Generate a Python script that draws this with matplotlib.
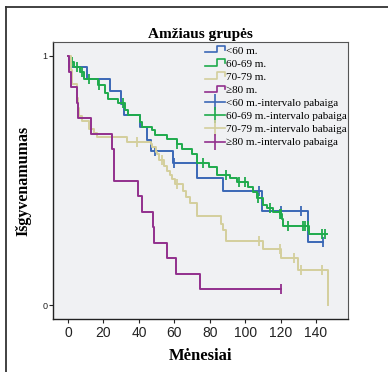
import numpy as np
import matplotlib
matplotlib.use("Agg")
import matplotlib.pyplot as plt
from matplotlib.lines import Line2D
from matplotlib.legend_handler import HandlerBase

# survival steps (time in months, survival after the event)
lt60_t = [0, 0.8, 10.9, 23.7, 29.7, 31.7, 40.8, 44.8, 46.7, 59.5, 72.6, 87.3, 109.5, 135.7]
lt60_s = [1.0, 0.955, 0.906, 0.858, 0.808, 0.761, 0.714, 0.664, 0.618, 0.57, 0.512, 0.456, 0.378, 0.252]
lt60_end = 144.2
lt60_cens = [49.1, 59.8, 107.8, 120.4, 131.6, 144.2]

g6069_t = [0, 1.1, 3.4, 6.8, 9.2, 17.1, 20.9, 22.6, 28.0, 32.2, 33.7, 40.8, 42.0, 47.5, 49.0,
           55.7, 61.3, 64.2, 69.8, 72.6, 79.8, 83.9, 91.5, 95.6, 101.8, 104.6, 106.9, 110.3,
           112.2, 115.6, 119.5, 120.6, 121.6, 136.1]
g6069_s = [1.0, 0.977, 0.955, 0.935, 0.906, 0.883, 0.85, 0.826, 0.81, 0.783, 0.763, 0.735,
           0.716, 0.702, 0.684, 0.666, 0.647, 0.627, 0.607, 0.572, 0.556, 0.523, 0.51, 0.492,
           0.473, 0.455, 0.428, 0.402, 0.388, 0.375, 0.366, 0.344, 0.318, 0.285]
g6069_end = 146.4
g6069_cens = [2.4, 5.3, 7.9, 11.7, 17.7, 31.2, 61.7, 76.4, 89.0, 96.7, 99.9, 107.5, 114.3,
              119.7, 120.2, 124.2, 132.9, 133.8, 135.3, 143.2, 145.3]

g7079_t = [0, 1.5, 2.0, 5.0, 5.6, 6.0, 8.1, 11.9, 14.7, 16.6, 33.5, 46.7, 47.6, 49.5, 50.5,
           51.4, 54.4, 55.7, 57.6, 58.5, 60.3, 64.8, 66.6, 68.9, 72.7, 86.4, 87.3, 89.0,
           110.3, 120.3, 129.7, 146.6]
g7079_s = [1.0, 0.944, 0.889, 0.83, 0.79, 0.76, 0.74, 0.705, 0.69, 0.673, 0.653, 0.645,
           0.633, 0.616, 0.605, 0.582, 0.558, 0.539, 0.522, 0.506, 0.487, 0.458, 0.435, 0.41,
           0.357, 0.326, 0.302, 0.257, 0.226, 0.187, 0.141, 0.0]
g7079_end = 146.6
g7079_cens = [38.8, 52.9, 61.4, 107.8, 119.7, 127.6, 131.4, 143.6]

ge80_t = [0, 0.6, 1.9, 4.8, 5.8, 12.8, 24.8, 25.9, 39.7, 42.0, 47.8, 48.7, 55.7, 60.7, 74.8]
ge80_s = [1.0, 0.9375, 0.875, 0.8125, 0.75, 0.6875, 0.625, 0.5, 0.4375, 0.375, 0.3125,
          0.25, 0.1875, 0.125, 0.0625]
ge80_end = 120.0
ge80_cens = [120.0]

groups = ["<60 m.", "60-69 m.", "70-79 m.", "\u226580 m."]
cens_labels = ["<60 m.-intervalo pabaiga", "60-69 m.-intervalo pabaiga",
               "70-79 m.-intervalo babaiga", "\u226580 m.-intervalo pabaiga"]
colors = ["#3b68b6", "#1fab4c", "#d4cf9c", "#922f8d"]

x_ticks = [0, 20, 40, 60, 80, 100, 120, 140]


class StepHandler(HandlerBase):
    # little "_|~|" glyph like SPSS uses for survival lines
    def create_artists(self, legend, orig_handle, xdescent, ydescent, width, height,
                       fontsize, trans):
        x0, y0 = -xdescent, -ydescent
        xs = [x0, x0 + 0.62 * width, x0 + 0.62 * width, x0 + width, x0 + width]
        ys = [y0 + 0.15 * height, y0 + 0.15 * height, y0 + 0.95 * height,
              y0 + 0.95 * height, y0 + 0.45 * height]
        ln = Line2D(xs, ys, color=orig_handle.get_color(), lw=orig_handle.get_linewidth(),
                    transform=trans)
        return [ln]


def surv_at(t_list, s_list, t):
    idx = np.searchsorted(t_list, t, side="right") - 1
    return s_list[idx]


fig = plt.figure(figsize=(3.88, 3.72), dpi=100)
ax = fig.add_axes([53 / 388, 1 - 319 / 372, 295 / 388, 277 / 372])
ax.set_facecolor("#f0f1f3")

data = [(lt60_t, lt60_s, lt60_end, lt60_cens),
        (g6069_t, g6069_s, g6069_end, g6069_cens),
        (g7079_t, g7079_s, g7079_end, g7079_cens),
        (ge80_t, ge80_s, ge80_end, ge80_cens)]

step_handles = []
cens_handles = []
for (t, s, end, cens), col, lab, clab in zip(data, colors, groups, cens_labels):
    tt = list(t) + [end]
    ss = list(s) + [s[-1]]
    ax.step(tt, ss, where="post", color=col, lw=1.4)
    cy = [surv_at(t, s, c) for c in cens]
    ax.plot(cens, cy, ls="none", marker="|", ms=7, mew=1.3, color=col)
    step_handles.append(Line2D([], [], color=col, lw=1.2, label=lab))
    cens_handles.append(Line2D([], [], color=col, lw=1.2, marker="|", ms=11, mew=1.2, label=clab))

ax.set_xlim(-8.5, 158.1)
ax.set_ylim(-0.056, 1.056)
ax.set_xticks(x_ticks)
ax.set_yticks([0, 1])
ax.set_yticklabels(["0", "1"])
for lbl in ax.get_xticklabels():
    lbl.set_fontfamily("Liberation Sans")
    lbl.set_fontsize(10)
for lbl in ax.get_yticklabels():
    lbl.set_fontfamily("Liberation Sans")
    lbl.set_fontsize(6.5)
ax.tick_params(axis="x", length=3, width=0.8, pad=2, colors="#222222")
ax.tick_params(axis="y", length=3, width=0.8, pad=1, colors="#222222")
for side in ["left", "bottom"]:
    ax.spines[side].set_color("#222222")
    ax.spines[side].set_linewidth(1.0)
for side in ["top", "right"]:
    ax.spines[side].set_color("#555555")
    ax.spines[side].set_linewidth(0.8)

ax.set_title("Am\u017eiaus grup\u0117s", fontfamily="Liberation Serif", fontweight="bold",
             fontsize=11, pad=3)
ax.set_xlabel("M\u0117nesiai", fontfamily="Liberation Serif", fontweight="bold",
              fontsize=12, labelpad=6)
ax.set_ylabel("I\u0161gyvenamumas", fontfamily="Liberation Serif", fontweight="bold",
              fontsize=11.5)
ax.yaxis.set_label_coords(-0.072, 0.5)

handler_map = {h: StepHandler() for h in step_handles}
leg = ax.legend(handles=step_handles + cens_handles, handler_map=handler_map,
                loc="upper left", bbox_to_anchor=(0.51, 0.99), frameon=False,
                prop={"family": "Liberation Serif", "size": 8.0}, borderpad=0.1,
                labelspacing=0.3, handlelength=1.8, handletextpad=0.15, numpoints=1,
                borderaxespad=0)

# outer frame of the SPSS chart window
fig.add_artist(Line2D([6 / 388, 6 / 388], [0, 1 - 7 / 372], transform=fig.transFigure,
                      color="#333333", lw=1.3))
fig.add_artist(Line2D([6 / 388, 1], [1 - 7 / 372, 1 - 7 / 372], transform=fig.transFigure,
                      color="#333333", lw=1.3))

fig.savefig("out.png", dpi=100)
